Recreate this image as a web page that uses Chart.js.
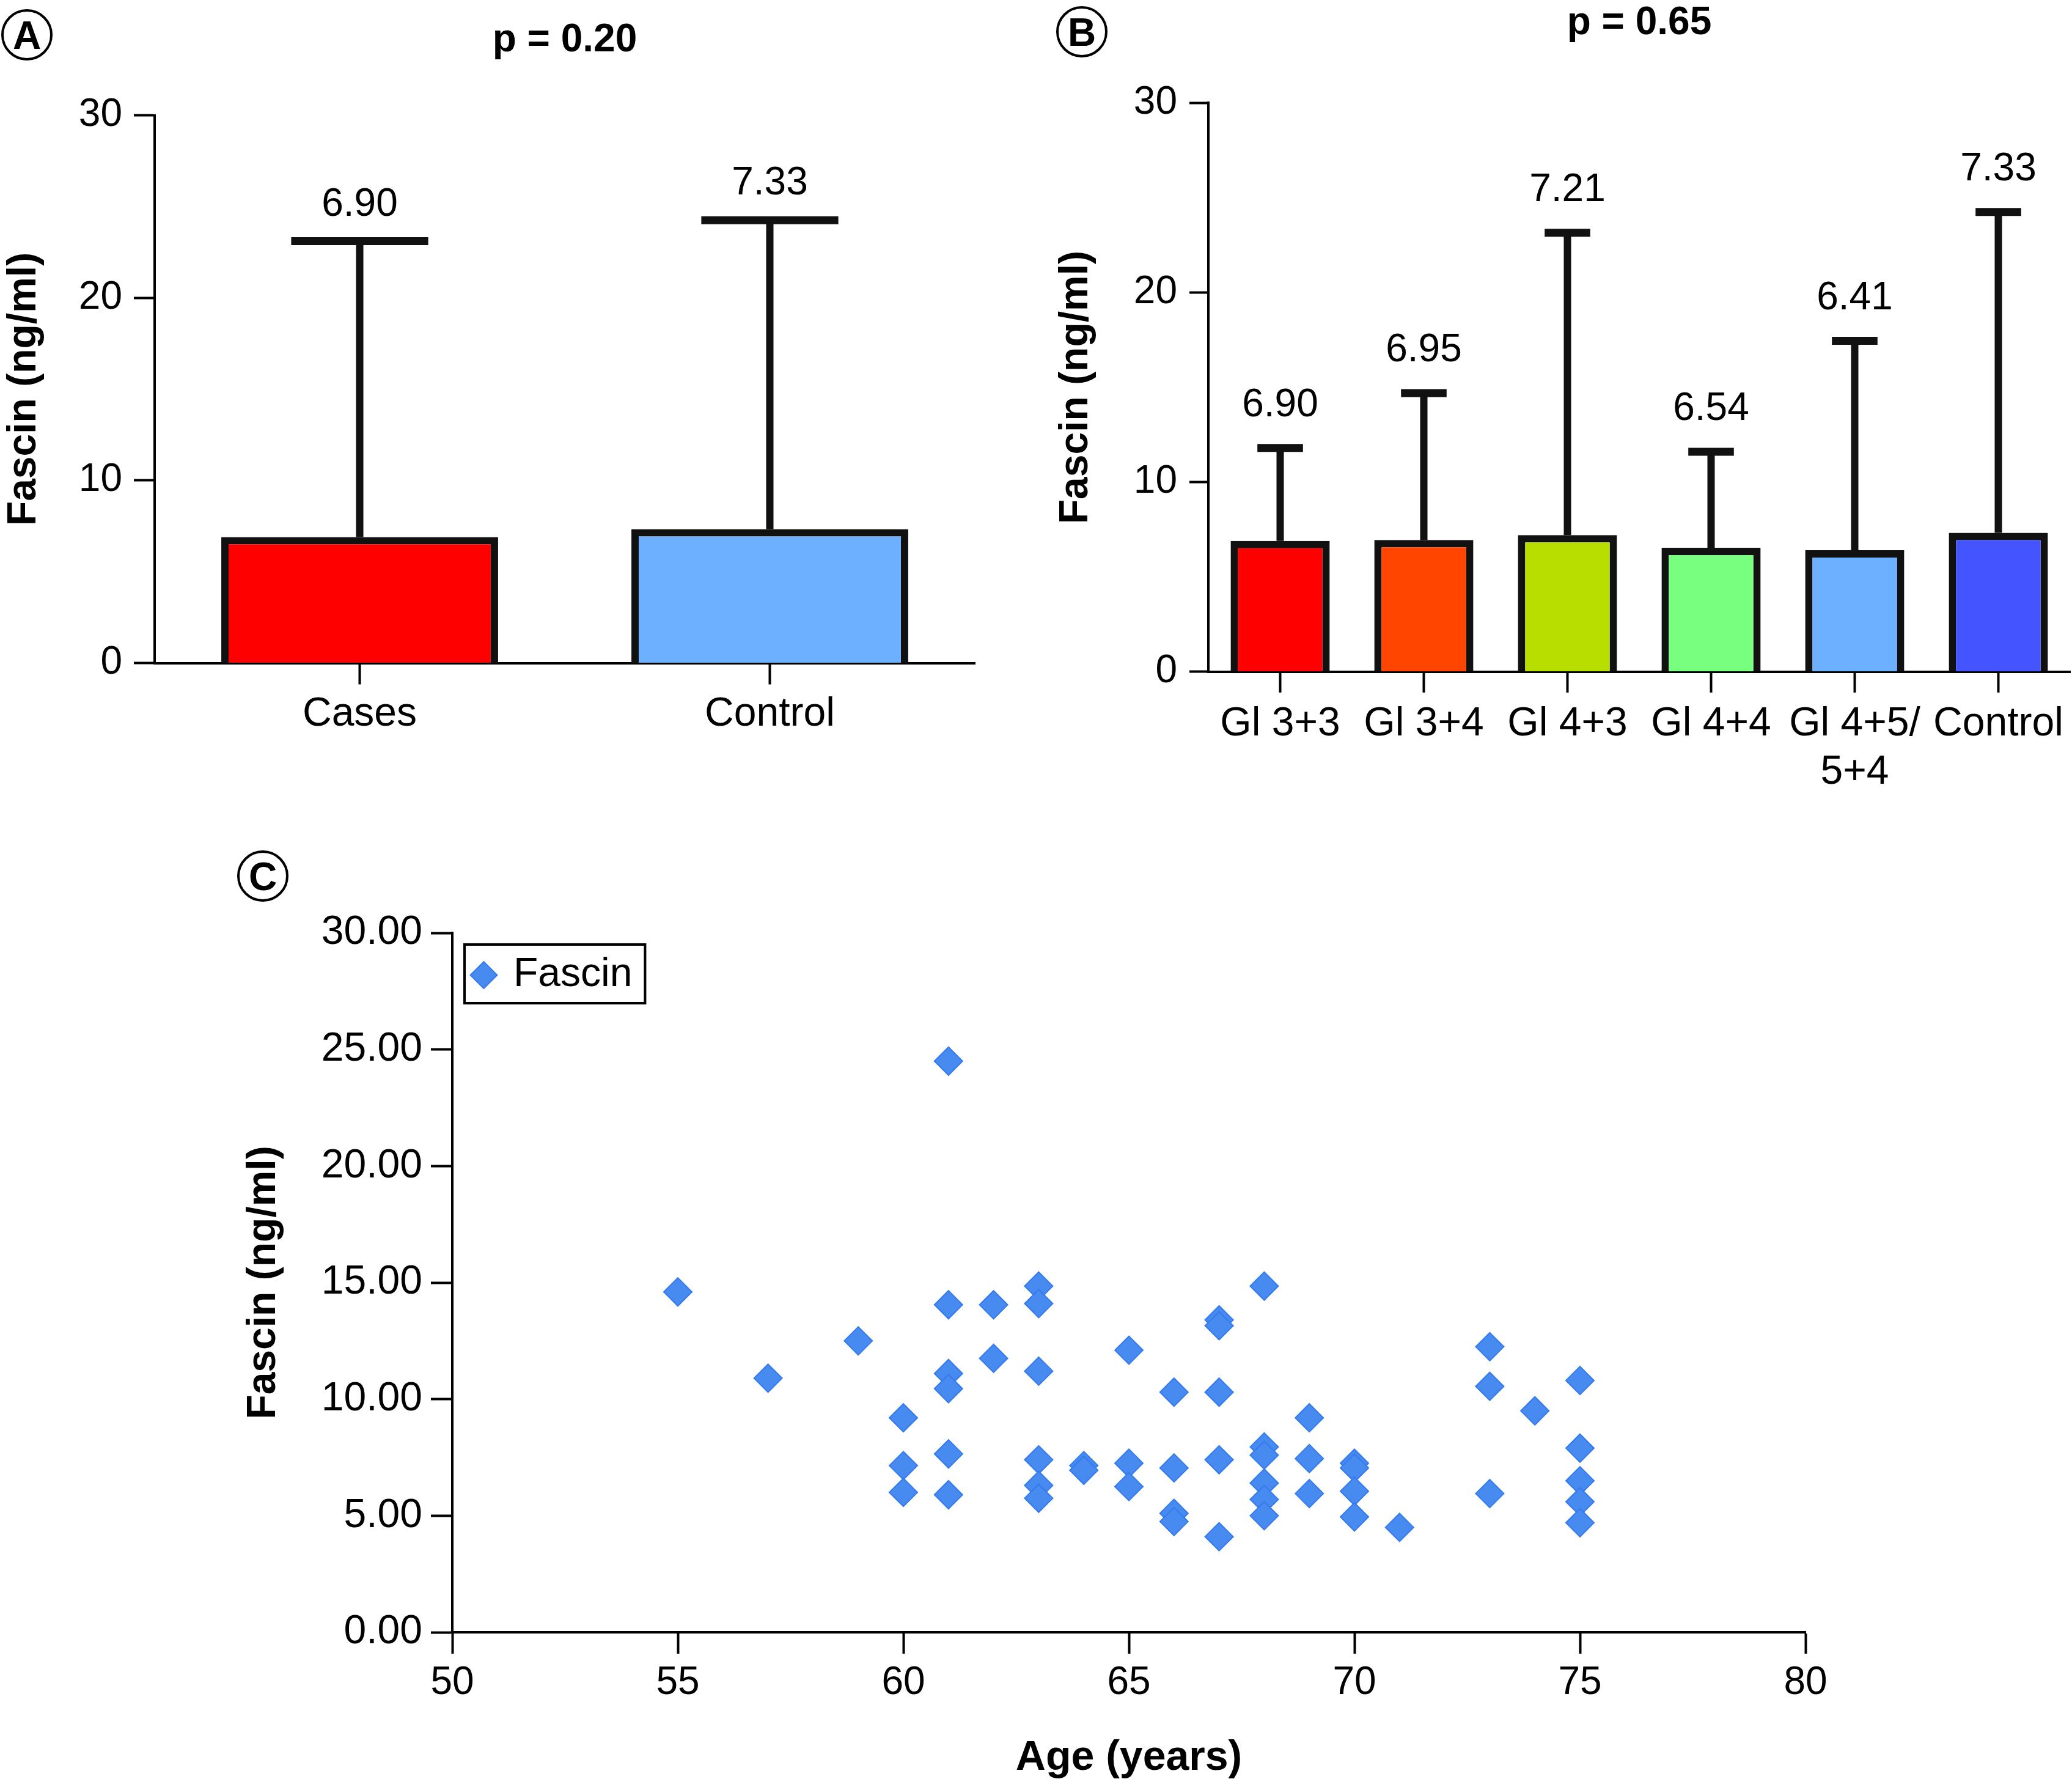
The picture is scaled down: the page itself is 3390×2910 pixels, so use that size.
<!DOCTYPE html>
<html>
<head>
<meta charset="utf-8">
<script src="https://cdn.jsdelivr.net/npm/chart.js@4.4.1/dist/chart.umd.min.js"></script>
<style>
  html, body { margin: 0; padding: 0; background: #fff; }
  body { width: 3390px; height: 2910px; position: relative; overflow: hidden;
         font-family: "Liberation Sans", Arial, sans-serif; }
  canvas { position: absolute; }
  .tag { position: absolute; width: 76px; height: 76px; border: 4px solid #000; border-radius: 50%;
         font-weight: bold; font-size: 64px; line-height: 78px; text-align: center; color: #000; z-index: 5; }
</style>
</head>
<body>
<div class="tag" style="left:2px;top:15px">A</div>
<div class="tag" style="left:1728px;top:10px">B</div>
<div class="tag" style="left:388px;top:1391px">C</div>
<canvas id="cA" width="1650" height="1250" style="left:0px;top:0px"></canvas>
<canvas id="cB" width="1690" height="1320" style="left:1700px;top:0px"></canvas>
<canvas id="cC" width="2700" height="1530" style="left:380px;top:1380px"></canvas>
<script>
// ---------- data ----------
const panelATitle = 'p = 0.20';
const panelACategories = ['Cases', 'Control'];
const panelAMeans = [6.90, 7.33];
const panelAUpper = [23.1, 24.25];

const panelBTitle = 'p = 0.65';
const panelBCategories = ['Gl 3+3', 'Gl 3+4', 'Gl 4+3', 'Gl 4+4', ['Gl 4+5/', '5+4'], 'Control'];
const panelBMeans = [6.90, 6.95, 7.21, 6.54, 6.41, 7.33];
const panelBUpper = [11.8, 14.7, 23.15, 11.6, 17.45, 24.25];

const yTicksBar = [0, 10, 20, 30];

const scatterAge = [55, 57, 59,
  60, 60, 60,
  61, 61, 61, 61, 61, 61,
  62, 62,
  63, 63, 63, 63, 63, 63,
  64, 64,
  65, 65, 65,
  66, 66, 66, 66,
  67, 67, 67, 67, 67,
  68, 68, 68, 68, 68, 68,
  69, 69, 69,
  70, 70, 70, 70,
  71,
  73, 73, 73,
  74,
  75, 75, 75, 75, 75];
const scatterFascin = [14.6, 10.9, 12.5,
  9.2, 7.15, 6.0,
  24.5, 14.05, 11.1, 10.45, 7.65, 5.9,
  14.05, 11.75,
  14.85, 14.1, 11.2, 7.4, 6.3, 5.75,
  7.15, 6.95,
  12.1, 7.25, 6.25,
  10.3, 7.05, 5.1, 4.75,
  13.4, 13.15, 10.3, 7.4, 4.1,
  14.85, 7.95, 7.6, 6.4, 5.7, 5.0,
  9.2, 7.45, 5.95,
  7.25, 7.05, 6.05, 4.95,
  4.5,
  12.25, 10.55, 5.95,
  9.5,
  10.8, 7.9, 6.5, 5.6, 4.7];

// ---------- styles ----------
const FONT = '"Liberation Sans", Arial, sans-serif';
const colorsA = ['#FF0000', '#6CB0FF'];
const colorsB = ['#FF0000', '#FF4500', '#B8DE00', '#78FF80', '#6CB0FF', '#4455FF'];
const INK = '#111111';

Chart.defaults.font.family = FONT;
Chart.defaults.color = '#000';

const errorBarPlugin = {
  id: 'errorBars',
  afterDatasetsDraw(chart, args, opts) {
    const ctx = chart.ctx;
    const ds = chart.data.datasets[0];
    const meta = chart.getDatasetMeta(0);
    const y = chart.scales.y;
    ctx.save();
    ctx.strokeStyle = INK;
    ctx.fillStyle = '#000';
    ctx.lineCap = 'butt';
    meta.data.forEach((bar, i) => {
      const p = bar.getProps(['x', 'y', 'width'], true);
      const top = y.getPixelForValue(ds.errorUpper[i]);
      ctx.lineWidth = opts.lineWidth;
      ctx.beginPath();
      ctx.moveTo(p.x, p.y);
      ctx.lineTo(p.x, top);
      ctx.stroke();
      const half = p.width * opts.capRatio / 2;
      ctx.lineWidth = opts.capWidth;
      ctx.beginPath();
      ctx.moveTo(p.x - half, top);
      ctx.lineTo(p.x + half, top);
      ctx.stroke();
      ctx.font = opts.labelSize + 'px ' + FONT;
      ctx.textAlign = 'center';
      ctx.textBaseline = 'alphabetic';
      ctx.fillText(ds.data[i].toFixed(2), p.x, top - opts.labelGap);
    });
    ctx.restore();
  }
};

// places the legend inside the plot area (top-left) and frames it
const legendBoxPlugin = {
  id: 'legendBox',
  afterLayout(chart) {
    const L = chart.legend;
    if (!L) return;
    const h = L.height;
    L.top = chart.chartArea.top;
    L.bottom = L.top + h;
    L.left = chart.chartArea.left;
    L.right = L.left + L.width;
  },
  afterDraw(chart) {
    const L = chart.legend;
    if (!L || !L.legendItems || !L.legendItems.length) return;
    const ctx = chart.ctx;
    const lab = L.options.labels;
    const pad = lab.padding;
    const fs = lab.font.size;
    ctx.save();
    ctx.font = fs + 'px ' + FONT;
    const tw = ctx.measureText(L.legendItems[0].text).width;
    const left = L.left + pad;
    const top = L.top + pad;
    const w = lab.boxWidth + fs / 2 + tw;
    ctx.strokeStyle = '#000';
    ctx.lineWidth = 4;
    ctx.strokeRect(left - 16, top - 17, w + 37, fs + 30);
    ctx.restore();
  }
};

function barOptions(cfg) {
  return {
    responsive: false,
    animation: false,
    devicePixelRatio: 1,
    layout: { padding: { left: 0, top: 0, right: cfg.padRight, bottom: 0 } },
    plugins: {
      legend: { display: false },
      tooltip: { enabled: false },
      title: {
        display: true, text: cfg.title, fullSize: false, color: '#000',
        font: { size: 64, weight: 'bold' },
        padding: { top: cfg.titleTop, bottom: cfg.titleBottom }
      },
      errorBars: { capRatio: cfg.capRatio, lineWidth: 12, capWidth: 13, labelGap: cfg.labelGap, labelSize: 64 }
    },
    scales: {
      x: {
        offset: true, z: 1,
        grid: { display: true, drawOnChartArea: false, offset: false, tickLength: cfg.xTick, tickWidth: 4, tickColor: '#000' },
        border: { display: true, width: 4, color: '#000' },
        ticks: { font: { size: 66, lineHeight: 1.2 }, color: '#000', padding: cfg.xPad, maxRotation: 0, minRotation: 0, autoSkip: false },
        afterFit: s => { s.height = cfg.xHeight; }
      },
      y: {
        min: 0, max: 30,
        afterBuildTicks: s => { s.ticks = yTicksBar.map(v => ({ value: v })); },
        grid: { display: true, drawOnChartArea: false, tickLength: cfg.yTick, tickWidth: 4, tickColor: '#000' },
        border: { display: true, width: 4, color: '#000' },
        ticks: { font: { size: 64 }, color: '#000', padding: cfg.yPad },
        title: { display: true, text: 'Fascin (ng/ml)', color: '#000', font: { size: 66, weight: 'bold', lineHeight: 1.2 }, padding: { top: cfg.yTitlePad, bottom: 0 } },
        afterFit: s => { s.width = cfg.yWidth; }
      }
    }
  };
}

new Chart(document.getElementById('cA'), {
  type: 'bar',
  data: {
    labels: panelACategories,
    datasets: [{
      data: panelAMeans, errorUpper: panelAUpper,
      backgroundColor: colorsA, borderColor: INK, borderWidth: 12,
      barPercentage: 0.675, categoryPercentage: 1
    }]
  },
  options: barOptions({ title: panelATitle, padRight: 55, titleTop: 28, titleBottom: 83.7,
    capRatio: 0.495, labelGap: 42, xTick: 35, xPad: 10, xHeight: 165.5,
    yTick: 34, yPad: 19, yTitlePad: 0, yWidth: 253 }),
  plugins: [errorBarPlugin]
});

new Chart(document.getElementById('cB'), {
  type: 'bar',
  data: {
    labels: panelBCategories,
    datasets: [{
      data: panelBMeans, errorUpper: panelBUpper,
      backgroundColor: colorsB, borderColor: INK, borderWidth: 12,
      barPercentage: 0.69, categoryPercentage: 1
    }]
  },
  options: barOptions({ title: panelBTitle, padRight: 3, titleTop: 0, titleBottom: 91.6,
    capRatio: 0.46, labelGap: 52, xTick: 34, xPad: 12, xHeight: 221.2,
    yTick: 31, yPad: 20, yTitlePad: 21.4, yWidth: 277 }),
  plugins: [errorBarPlugin]
});

new Chart(document.getElementById('cC'), {
  type: 'scatter',
  data: {
    datasets: [{
      label: 'Fascin',
      data: scatterAge.map((a, i) => ({ x: a, y: scatterFascin[i] })),
      pointStyle: 'rectRot',
      pointRadius: 23,
      backgroundColor: 'rgb(72,139,240)',
      borderColor: 'rgb(52,122,238)',
      borderWidth: 2
    }]
  },
  options: {
    responsive: false,
    animation: false,
    devicePixelRatio: 1,
    layout: { padding: { left: 0, top: 146, right: 126, bottom: 0 } },
    plugins: {
      tooltip: { enabled: false },
      legend: {
        display: true, position: 'chartArea', align: 'start',
        labels: { usePointStyle: true, boxWidth: 31, boxHeight: 31, padding: 36, font: { size: 66 }, color: '#000' }
      }
    },
    scales: {
      x: {
        type: 'linear', min: 50, max: 80,
        ticks: { stepSize: 5, font: { size: 64 }, color: '#000', padding: 10 },
        grid: { display: true, drawOnChartArea: false, tickLength: 35, tickWidth: 4, tickColor: '#000' },
        border: { display: true, width: 4, color: '#000' },
        title: { display: true, text: 'Age (years)', color: '#000', font: { size: 68, weight: 'bold', lineHeight: 1 }, padding: 0 },
        afterFit: s => { s.height = 240; }
      },
      y: {
        type: 'linear', min: 0, max: 30,
        ticks: { stepSize: 5, font: { size: 66 }, color: '#000', padding: 14, callback: v => Number(v).toFixed(2) },
        grid: { display: true, drawOnChartArea: false, tickLength: 35, tickWidth: 4, tickColor: '#000' },
        border: { display: true, width: 4, color: '#000' },
        title: { display: true, text: 'Fascin (ng/ml)', color: '#000', font: { size: 66, weight: 'bold', lineHeight: 1.2 }, padding: { top: 12.4, bottom: 0 } },
        afterFit: s => { s.width = 360; }
      }
    }
  },
  plugins: [legendBoxPlugin]
});
</script>
</body>
</html>
